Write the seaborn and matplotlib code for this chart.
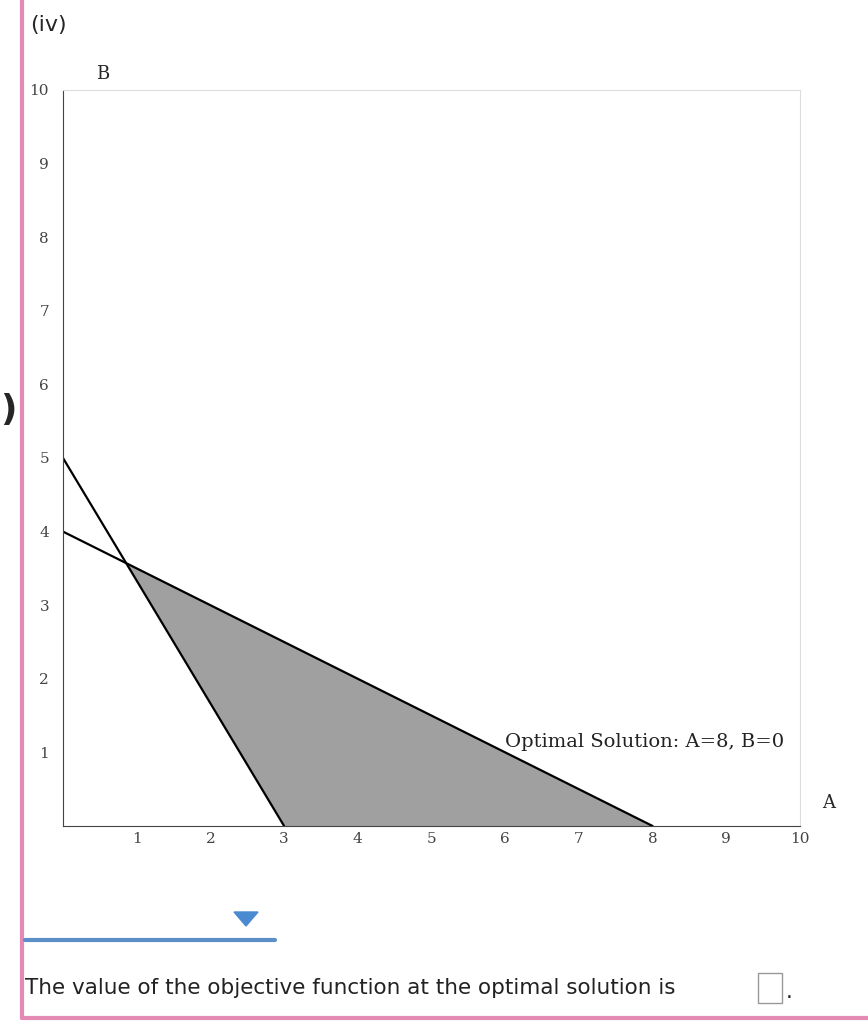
import matplotlib
matplotlib.use("Agg")
import matplotlib.pyplot as plt
import seaborn as sns
import pandas as pd
from matplotlib.patches import Polygon, Rectangle

sns.set_style("white")
plt.rcParams['font.family'] = ['DejaVu Sans']

line1_A = [0, 3]; line1_B = [5, 0]     # 5A + 3B = 15
line2_A = [0, 8]; line2_B = [4, 0]     # A + 2B = 8
region_A = [6/7, 3, 8]; region_B = [25/7, 0, 0]
ticks = list(range(1, 11))
annotation = "Optimal Solution: A=8, B=0"

fig = plt.figure(figsize=(8.68, 10.34), dpi=100)
ax = fig.add_axes([63/868, 1 - 826/1034, 737/868, 736/1034])

ax.add_patch(Polygon(list(zip(region_A, region_B)), closed=True, facecolor="#a0a0a0", edgecolor="none"))
df1 = pd.DataFrame({"A": line1_A, "B": line1_B})
df2 = pd.DataFrame({"A": line2_A, "B": line2_B})
sns.lineplot(data=df1, x="A", y="B", ax=ax, color="black", lw=1.6)
sns.lineplot(data=df2, x="A", y="B", ax=ax, color="black", lw=1.6)
ax.text(6.0, 1.08, annotation, family="serif", fontsize=14, color="#222")

ax.set_xlim(0, 10); ax.set_ylim(0, 10)
ax.set_xlabel(""); ax.set_ylabel("")
ax.set_xticks(ticks); ax.set_yticks(ticks)
ax.set_xticklabels([str(t) for t in ticks], family="serif", fontsize=11, color="#444")
ax.set_yticklabels([str(t) for t in ticks], family="serif", fontsize=11, color="#444")
ax.set_xticks([i/5 for i in range(51)], minor=True)
ax.set_yticks([i/5 for i in range(51)], minor=True)
ax.tick_params(which="major", length=6, color="#444", direction="in", pad=4)
ax.tick_params(which="minor", length=3, color="#888", direction="in")
ax.tick_params(axis="y", direction="out", which="both")
for s in ["top", "right"]:
    ax.spines[s].set_color("#dddddd")
for s in ["left", "bottom"]:
    ax.spines[s].set_color("#444")
ax.text(0.45, 10.15, "B", family="serif", fontsize=13, transform=ax.transData)
ax.text(10.3, 0.25, "A", family="serif", fontsize=13)

# page decorations
fig.add_artist(plt.Line2D([22/868, 22/868], [1 - 1018/1034, 1], color="#e38bb5", lw=3))
fig.add_artist(plt.Line2D([22/868, 1], [1 - 1018/1034, 1 - 1018/1034], color="#e38bb5", lw=3))
fig.text(30/868, 1 - 25/1034, "(iv)", fontsize=16, va="center")
fig.text(0/868, 1 - 410/1034, ")", fontsize=26, va="center", weight="bold")
fig.add_artist(plt.Line2D([25/868, 275/868], [1 - 940/1034, 1 - 940/1034], color="#5b8fc7", lw=3))
fig.add_artist(Polygon([[234/868, 1 - 912/1034], [258/868, 1 - 912/1034], [246/868, 1 - 926/1034]],
                       closed=True, color="#4a8ad0", transform=fig.transFigure))
fig.text(25/868, 1 - 988/1034, "The value of the objective function at the optimal solution is",
         fontsize=15.5, va="center", color="#222")
fig.add_artist(Rectangle((758/868, 1 - 1003/1034), 24/868, 30/1034, transform=fig.transFigure,
                         fill=False, edgecolor="#999", lw=1))
fig.text(786/868, 1 - 992/1034, ".", fontsize=15.5, va="center")

fig.savefig("out.png", dpi=100)
